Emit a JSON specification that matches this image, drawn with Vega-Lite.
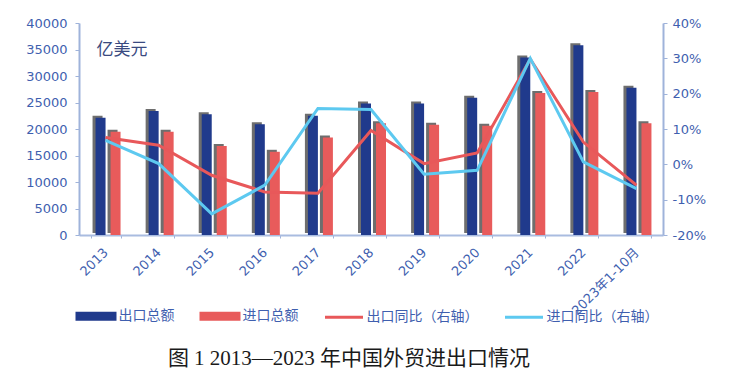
{
  "$schema": "https://vega.github.io/schema/vega-lite/v6.json",
  "width": 584,
  "height": 212,
  "autosize": {"type": "none"},
  "padding": {"left": 79, "top": 23, "right": 66, "bottom": 148},
  "background": "white",
  "config": {"view": {"stroke": null}, "font": "DejaVu Sans", "axis": {"grid": false}},
  "data": {"values": [
    {"year": "2013", "series": "出口总额", "value": 22100},
    {"year": "2014", "series": "出口总额", "value": 23400},
    {"year": "2015", "series": "出口总额", "value": 22800},
    {"year": "2016", "series": "出口总额", "value": 20900},
    {"year": "2017", "series": "出口总额", "value": 22500},
    {"year": "2018", "series": "出口总额", "value": 24800},
    {"year": "2019", "series": "出口总额", "value": 24800},
    {"year": "2020", "series": "出口总额", "value": 25900},
    {"year": "2021", "series": "出口总额", "value": 33500},
    {"year": "2022", "series": "出口总额", "value": 35800},
    {"year": "2023年1-10月", "series": "出口总额", "value": 27800},
    {"year": "2013", "series": "进口总额", "value": 19500},
    {"year": "2014", "series": "进口总额", "value": 19500},
    {"year": "2015", "series": "进口总额", "value": 16800},
    {"year": "2016", "series": "进口总额", "value": 15700},
    {"year": "2017", "series": "进口总额", "value": 18400},
    {"year": "2018", "series": "进口总额", "value": 21100},
    {"year": "2019", "series": "进口总额", "value": 20800},
    {"year": "2020", "series": "进口总额", "value": 20600},
    {"year": "2021", "series": "进口总额", "value": 26800},
    {"year": "2022", "series": "进口总额", "value": 27000},
    {"year": "2023年1-10月", "series": "进口总额", "value": 21100},
    {"year": "2013", "series": "出口同比（右轴）", "value": 7.6},
    {"year": "2014", "series": "出口同比（右轴）", "value": 5.4},
    {"year": "2015", "series": "出口同比（右轴）", "value": -3.1},
    {"year": "2016", "series": "出口同比（右轴）", "value": -7.8},
    {"year": "2017", "series": "出口同比（右轴）", "value": -8.2},
    {"year": "2018", "series": "出口同比（右轴）", "value": 9.6},
    {"year": "2019", "series": "出口同比（右轴）", "value": 0.2},
    {"year": "2020", "series": "出口同比（右轴）", "value": 3.2},
    {"year": "2021", "series": "出口同比（右轴）", "value": 29.8},
    {"year": "2022", "series": "出口同比（右轴）", "value": 6.3},
    {"year": "2023年1-10月", "series": "出口同比（右轴）", "value": -5.9},
    {"year": "2013", "series": "进口同比（右轴）", "value": 6.8},
    {"year": "2014", "series": "进口同比（右轴）", "value": 0.2},
    {"year": "2015", "series": "进口同比（右轴）", "value": -14.0},
    {"year": "2016", "series": "进口同比（右轴）", "value": -5.9},
    {"year": "2017", "series": "进口同比（右轴）", "value": 15.8},
    {"year": "2018", "series": "进口同比（右轴）", "value": 15.5},
    {"year": "2019", "series": "进口同比（右轴）", "value": -2.8},
    {"year": "2020", "series": "进口同比（右轴）", "value": -1.7},
    {"year": "2021", "series": "进口同比（右轴）", "value": 30.0},
    {"year": "2022", "series": "进口同比（右轴）", "value": 0.7},
    {"year": "2023年1-10月", "series": "进口同比（右轴）", "value": -6.9}
  ]},
  "encoding": {
    "x": {
      "field": "year",
      "type": "nominal",
      "sort": null,
      "scale": {"paddingInner": 0.435, "paddingOuter": 0.2175},
      "axis": {
        "title": "图 1  2013—2023 年中国外贸进出口情况",
        "titleX": 269.5,
        "titleY": 123,
        "titleAlign": "center",
        "titleBaseline": "middle",
        "titleAngle": 0,
        "titleFont": "Liberation Serif, Noto Sans CJK SC",
        "titleFontSize": 21,
        "titleFontWeight": "normal",
        "titleColor": "#1a1a1a",
        "labelAngle": -45,
        "labelAlign": "right",
        "labelBaseline": "middle",
        "labelFont": "DejaVu Sans, Noto Sans CJK SC",
        "labelFontSize": 13,
        "labelColor": "#3F5FAF",
        "labelPadding": 12,
        "tickBand": "extent",
        "tickSize": 3,
        "tickColor": "#9FB3DA",
        "domainColor": "#A9BCE0",
        "domainWidth": 2
      }
    }
  },
  "layer": [
    {
      "transform": [{"filter": "datum.series == '出口总额' || datum.series == '进口总额'"}],
      "encoding": {
        "y": {
          "field": "value",
          "type": "quantitative",
          "scale": {"domain": [0, 40000], "nice": false},
          "axis": {
            "title": "亿美元",
            "titleAngle": 0,
            "titleX": 17,
            "titleY": 26,
            "titleAlign": "left",
            "titleBaseline": "middle",
            "titleFont": "Noto Sans CJK SC",
            "titleFontSize": 17,
            "titleFontWeight": "normal",
            "titleColor": "#3A4A80",
            "values": [0, 5000, 10000, 15000, 20000, 25000, 30000, 35000, 40000],
            "format": "d",
            "labelFontSize": 13,
            "labelColor": "#3F5FAF",
            "labelPadding": 8,
            "tickSize": 4,
            "tickColor": "#9FB3DA",
            "domainColor": "#9FB3DA",
            "domainWidth": 2
          }
        }
      },
      "layer": [
        {
          "mark": {"type": "bar", "color": "#6e6e6e", "yOffset": -2},
          "encoding": {
            "xOffset": {
              "field": "series",
              "type": "nominal",
              "sort": ["出口总额", "进口总额"],
              "scale": {"paddingInner": 0.3333, "paddingOuter": 0.16667, "align": 0.4}
            }
          }
        },
        {
          "mark": {"type": "bar"},
          "encoding": {
            "xOffset": {
              "field": "series",
              "type": "nominal",
              "sort": ["出口总额", "进口总额"],
              "scale": {"paddingInner": 0.3333, "paddingOuter": 0.16667, "align": 1}
            },
            "color": {
              "field": "series",
              "type": "nominal",
              "scale": {
                "domain": ["出口总额", "进口总额", "出口同比（右轴）", "进口同比（右轴）"],
                "range": ["#203A8C", "#E85B5B", "#E8585A", "#5DC9F0"]
              },
              "legend": {
                "orient": "none",
                "legendX": -3.5,
                "legendY": 272.5,
                "direction": "horizontal",
                "columns": 4,
                "title": null,
                "symbolType": "stroke",
                "symbolSize": 1444,
                "symbolStrokeWidth": 3,
                "labelFont": "Noto Sans CJK SC",
                "labelFontSize": 14,
                "labelColor": "#3F5FAF",
                "labelOffset": 2,
                "columnPadding": 20,
                "padding": 0,
                "encode": {
                  "symbols": {
                    "update": {
                      "shape": {"signal": "indexof(['出口总额','进口总额'], datum.value) >= 0 ? 'M-1,-0.16H1V0.16H-1Z' : 'stroke'"},
                      "fill": {"signal": "indexof(['出口总额','进口总额'], datum.value) >= 0 ? scale('color', datum.value) : 'transparent'"},
                      "stroke": {"signal": "indexof(['出口总额','进口总额'], datum.value) >= 0 ? 'transparent' : scale('color', datum.value)"}
                    }
                  }
                }
              }
            }
          }
        }
      ],
      "resolve": {"scale": {"xOffset": "independent"}}
    },
    {
      "transform": [{"filter": "datum.series == '出口同比（右轴）' || datum.series == '进口同比（右轴）'"}],
      "mark": {"type": "line", "strokeWidth": 3},
      "encoding": {
        "y": {
          "field": "value",
          "type": "quantitative",
          "scale": {"domain": [-20, 40], "nice": false, "zero": false},
          "axis": {
            "orient": "right",
            "title": null,
            "values": [-20, -10, 0, 10, 20, 30, 40],
            "labelExpr": "datum.value + '%'",
            "labelFontSize": 13,
            "labelColor": "#3F5FAF",
            "labelPadding": 5,
            "tickSize": 4,
            "tickColor": "#9FB3DA",
            "domainColor": "#9FB3DA",
            "domainWidth": 2
          }
        },
        "color": {"field": "series", "type": "nominal"}
      }
    }
  ],
  "resolve": {"scale": {"y": "independent"}}
}
